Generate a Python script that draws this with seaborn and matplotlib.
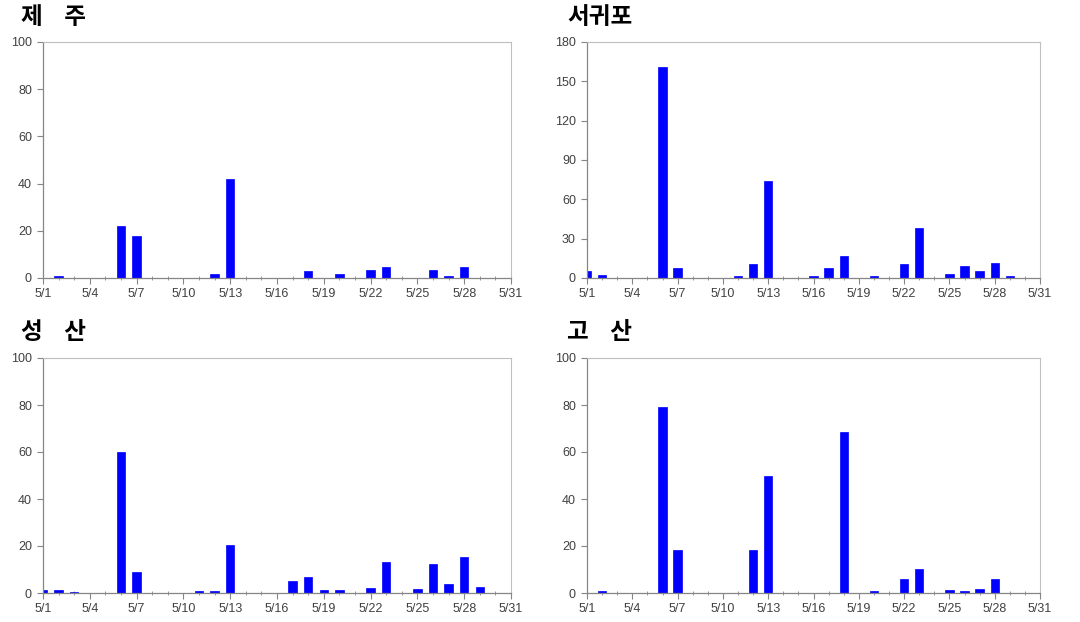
import matplotlib
matplotlib.use("Agg")
import matplotlib.pyplot as plt
import seaborn as sns
import numpy as np
import pandas as pd
from matplotlib.ticker import FixedLocator, MultipleLocator

days = list(range(1, 32))
tick_days = list(range(1, 32, 3))
tick_labels = [f"5/{d}" for d in tick_days]

jeju = [0, 1, 0, 0, 0, 22, 18, 0, 0, 0, 0, 1.5, 42, 0, 0, 0, 0, 3, 0, 1.5,
        0, 3.5, 4.5, 0, 0, 3.5, 1, 4.5, 0, 0, 0]
seogwipo = [5, 2.2, 0, 0, 0, 161, 8, 0, 0, 0, 1.5, 10.5, 74, 0, 0, 1.5, 8, 16.5, 0, 1.5,
            0, 10.5, 38.5, 0, 3, 9, 5, 11.5, 1.5, 0, 0]
seongsan = [1.1, 1.1, 0.6, 0, 0, 60, 9, 0, 0, 0, 0.7, 0.7, 20.5, 0, 0, 0, 5.2, 6.8, 1.1, 1.1,
            0, 2, 13.2, 0, 1.7, 12.4, 3.9, 15.2, 2.4, 0, 0]
gosan = [0, 0.7, 0, 0, 0, 79, 18.2, 0, 0, 0, 0, 18.2, 49.6, 0, 0, 0, 0, 68.5, 0, 0.7,
         0, 5.8, 10.1, 0, 1.4, 0.7, 1.7, 6, 0, 0, 0]

titles = ["제    주", "서귀포", "성    산", "고    산"]
series = [jeju, seogwipo, seongsan, gosan]
ymax = [100, 180, 100, 100]
ystep = [20, 30, 20, 20]

sns.set_theme(style="white")
plt.rcParams['font.family'] = ['Liberation Sans', 'DejaVu Sans']

W, H = 1080, 622
fig = plt.figure(figsize=(W / 100, H / 100), dpi=100)

# pixel boxes: left, top, right, bottom
boxes = [(43, 42, 511, 278), (587, 42, 1040, 278),
         (43, 358, 511, 593), (587, 358, 1040, 593)]
title_pos = [(21, 17), (567, 17), (21, 332), (567, 332)]

for i in range(4):
    l, t, r, b = boxes[i]
    ax = fig.add_axes([l / W, 1 - b / H, (r - l) / W, (b - t) / H])
    df = pd.DataFrame({"day": days, "value": series[i]})
    sns.barplot(data=df, x="day", y="value", native_scale=True, width=0.55,
                color="#0000FF", saturation=1, edgecolor="#0000FF", linewidth=0.5, ax=ax)
    ax.set_xlim(1, 31)
    ax.set_ylim(0, ymax[i])
    ax.xaxis.set_major_locator(FixedLocator(tick_days))
    ax.set_xticklabels(tick_labels)
    ax.xaxis.set_minor_locator(MultipleLocator(1))
    ax.yaxis.set_major_locator(MultipleLocator(ystep[i]))
    ax.set_xlabel("")
    ax.set_ylabel("")
    ax.tick_params(axis="x", which="major", direction="out", length=4, width=0.8,
                   color="#868686", labelsize=9, labelcolor="#404040", pad=3, bottom=True)
    ax.tick_params(axis="x", which="minor", direction="inout", length=3, width=0.6,
                   color="#868686", bottom=True)
    ax.tick_params(axis="y", which="major", direction="out", length=4, width=0.8,
                   color="#868686", labelsize=9, labelcolor="#404040", pad=4, left=True)
    for side in ["left", "bottom"]:
        ax.spines[side].set_color("#868686")
        ax.spines[side].set_linewidth(0.9)
    for side in ["top", "right"]:
        ax.spines[side].set_visible(True)
        ax.spines[side].set_color("#BFBFBF")
        ax.spines[side].set_linewidth(0.8)
    tx, ty = title_pos[i]
    fig.text(tx / W, 1 - ty / H, titles[i], ha="left", va="center", fontsize=17,
             fontweight="bold", family=["Noto Sans CJK KR", "DejaVu Sans"], color="black")

fig.savefig("out.png", dpi=100)
